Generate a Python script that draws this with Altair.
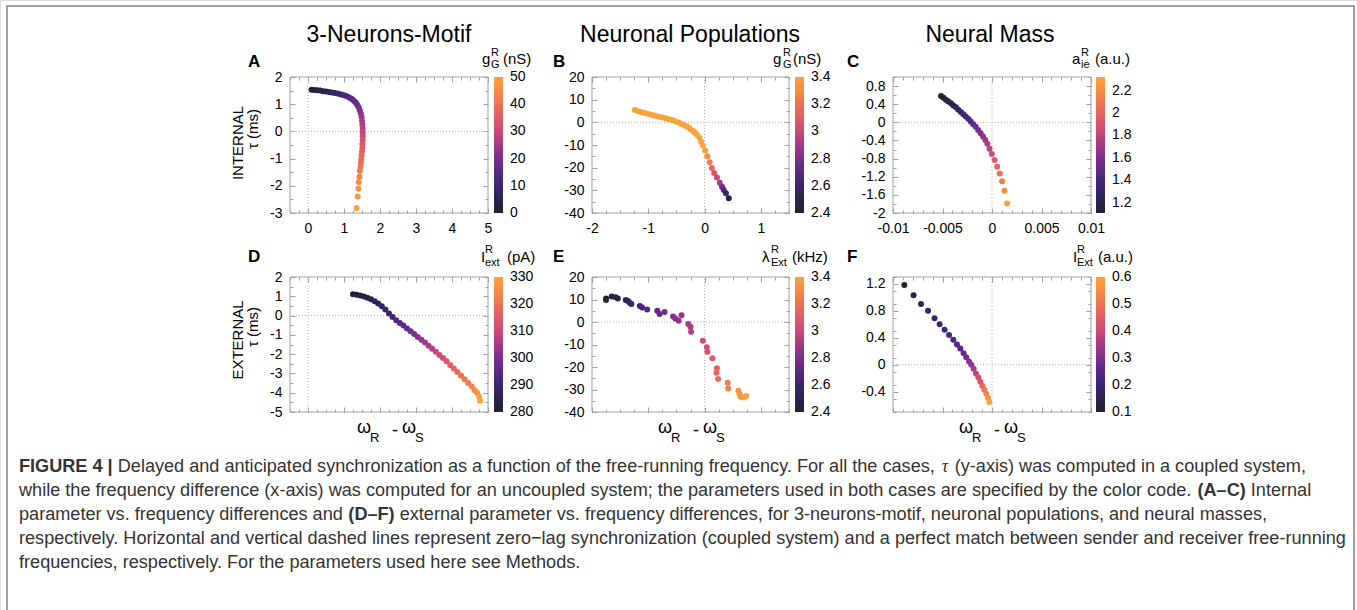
import altair as alt
import pandas as pd

W, H = 1357, 610
FONT = "Liberation Sans"

# ---------------- data ----------------
# A : 3-neurons-motif, internal parameter g_G^R (nS)
A_x = [0.10, 0.18, 0.26, 0.34, 0.42, 0.50, 0.58, 0.66, 0.74, 0.82, 0.90, 0.97, 1.04, 1.11, 1.17, 1.23,
       1.28, 1.33, 1.37, 1.41, 1.44, 1.47, 1.49, 1.50, 1.51, 1.52, 1.52, 1.52, 1.52, 1.51, 1.51, 1.50,
       1.49, 1.48, 1.47, 1.46, 1.44, 1.43, 1.41, 1.40, 1.38, 1.35]
A_tau = [1.53, 1.52, 1.51, 1.50, 1.48, 1.47, 1.45, 1.43, 1.41, 1.39, 1.37, 1.34, 1.31, 1.27, 1.23, 1.18,
         1.12, 1.05, 0.97, 0.88, 0.77, 0.65, 0.52, 0.38, 0.24, 0.10, -0.04, -0.18, -0.32, -0.46, -0.60,
         -0.74, -0.88, -1.02, -1.16, -1.30, -1.45, -1.67, -1.87, -2.11, -2.39, -2.82]
A_g = [0, 1, 2, 3, 4, 5, 6, 7, 8, 9, 10, 11, 12, 13, 14, 15, 16, 17, 18, 19, 21, 22.5, 24, 25.5, 27,
       28.5, 30, 31, 32.5, 34, 35, 36.5, 37.5, 38.5, 39.5, 40.5, 42, 43.5, 45, 46, 47.5, 49]

# B : neuronal populations, internal parameter g_G^R (nS)
B_x = [-1.24, -1.18, -1.12, -1.06, -1.00, -0.94, -0.88, -0.82, -0.76, -0.70, -0.64, -0.58, -0.52, -0.46,
       -0.41, -0.36, -0.31, -0.26, -0.21, -0.17, -0.13, -0.09, -0.06, -0.03, 0.01, 0.05, 0.09, 0.13,
       0.17, 0.22, 0.27, 0.31, 0.34, 0.38, 0.43]
B_tau = [5.4, 4.9, 4.5, 4.1, 3.7, 3.3, 2.9, 2.6, 2.2, 1.8, 1.4, 1.0, 0.5, -0.1, -0.7, -1.3, -2.0, -2.8,
         -3.7, -4.6, -5.6, -6.8, -8.6, -10.2, -12.4, -15.0, -17.6, -20.2, -22.3, -24.3, -26.6, -28.4,
         -29.8, -31.3, -33.5]
B_g = [3.4] * 24 + [3.38, 3.33, 3.25, 3.15, 3.07, 3.0, 2.9, 2.8, 2.7, 2.6, 2.45]

# C : neural mass, internal parameter a_ie^R (a.u.)
C_x = [-0.00515, -0.0049, -0.00465, -0.0044, -0.00415, -0.0039, -0.00365, -0.0034, -0.00315, -0.0029,
       -0.00265, -0.0024, -0.00215, -0.0019, -0.00165, -0.0014, -0.00115, -0.0009, -0.00068, -0.00047,
       -0.00025, -0.00002, 0.00026, 0.00052, 0.00078, 0.00102, 0.00126, 0.00152]
C_tau = [0.58, 0.54, 0.50, 0.46, 0.42, 0.37, 0.33, 0.28, 0.23, 0.18, 0.13, 0.08, 0.02, -0.04, -0.10,
         -0.17, -0.24, -0.31, -0.39, -0.47, -0.58, -0.70, -0.83, -0.98, -1.13, -1.30, -1.51, -1.79]
C_a = [1.12, 1.14, 1.16, 1.18, 1.21, 1.24, 1.27, 1.30, 1.33, 1.36, 1.39, 1.42, 1.46, 1.50, 1.54, 1.58,
       1.62, 1.66, 1.70, 1.74, 1.80, 1.86, 1.93, 2.00, 2.07, 2.14, 2.22, 2.30]

# D : 3-neurons-motif, external parameter I_ext^R (pA)
D_x = [1.25, 1.35, 1.45, 1.55, 1.65, 1.75, 1.85, 1.95, 2.05, 2.15, 2.25, 2.35, 2.45, 2.55, 2.65, 2.75,
       2.85, 2.95, 3.05, 3.15, 3.25, 3.35, 3.45, 3.55, 3.65, 3.75, 3.85, 3.95, 4.05, 4.15, 4.25, 4.35,
       4.45, 4.55, 4.63, 4.70, 4.75, 4.78]
D_tau = [1.11, 1.08, 1.04, 0.99, 0.92, 0.84, 0.74, 0.63, 0.48, 0.31, 0.11, -0.08, -0.24, -0.38, -0.52,
         -0.67, -0.81, -0.96, -1.11, -1.25, -1.40, -1.57, -1.72, -1.88, -2.04, -2.20, -2.37, -2.56, -2.74,
         -2.92, -3.11, -3.30, -3.49, -3.68, -3.87, -4.02, -4.20, -4.42]
D_I = [280, 281, 282, 283, 284, 285, 286, 287, 288, 289, 290, 291, 292.5, 294, 295.5, 297, 298.5, 300,
       301.5, 303, 304.5, 306, 307.5, 309, 310.5, 312, 313.5, 315, 316.5, 318, 319.5, 321, 322.5, 324,
       325.5, 327, 328.5, 330]

# E : neuronal populations, external parameter lambda_Ext^R (kHz)
E_x = [-1.75, -1.75, -1.65, -1.58, -1.54, -1.40, -1.36, -1.33, -1.30, -1.15, -1.11, -1.02, -0.84, -0.80,
       -0.71, -0.56, -0.52, -0.46, -0.41, -0.29, -0.25, -0.24, -0.03, 0.04, 0.05, 0.14, 0.22, 0.21, 0.24,
       0.41, 0.42, 0.60, 0.62, 0.64, 0.70, 0.74]
E_tau = [10.5, 9.8, 11.3, 11.0, 10.5, 9.8, 9.3, 8.6, 8.0, 7.1, 6.5, 5.6, 5.0, 3.6, 4.4, 2.4, 1.6, 0.6,
         3.0, -0.9, -2.1, -4.3, -8.3, -11.2, -13.2, -16.1, -20.6, -22.5, -25.3, -27.0, -29.5, -30.5,
         -32.0, -33.2, -33.5, -32.9]
E_lam = [2.42, 2.43, 2.45, 2.47, 2.48, 2.52, 2.54, 2.56, 2.58, 2.62, 2.64, 2.67, 2.72, 2.74, 2.76, 2.80,
         2.82, 2.84, 2.86, 2.90, 2.92, 2.94, 3.00, 3.03, 3.05, 3.09, 3.13, 3.15, 3.18, 3.24, 3.26, 3.32,
         3.34, 3.36, 3.38, 3.40]

# F : neural mass, external parameter I_Ext^R (a.u.)
F_x = [-0.00886, -0.00792, -0.00717, -0.00646, -0.0058, -0.00529, -0.00479, -0.00434, -0.00391,
       -0.00354, -0.0032, -0.00287, -0.0026, -0.00232, -0.00209, -0.00186, -0.00162, -0.00138,
       -0.00118, -0.00098, -0.00078, -0.00058, -0.0004, -0.00027]
F_tau = [1.18, 1.03, 0.90, 0.80, 0.69, 0.60, 0.52, 0.44, 0.37, 0.30, 0.24, 0.17, 0.11, 0.05, 0.0, -0.06,
         -0.13, -0.19, -0.25, -0.31, -0.37, -0.43, -0.49, -0.55]
F_I = [0.10, 0.14, 0.16, 0.18, 0.19, 0.20, 0.21, 0.22, 0.23, 0.24, 0.25, 0.27, 0.29, 0.31, 0.33, 0.35,
       0.38, 0.41, 0.44, 0.47, 0.50, 0.53, 0.56, 0.60]

# axis / colorbar ticks
X_NEURON = [0, 1, 2, 3, 4, 5]
X_POP = [-2, -1, 0, 1]
X_MASS = [-0.01, -0.005, 0, 0.005, 0.01]
Y_A = [-3, -2, -1, 0, 1, 2]
Y_B = [-40, -30, -20, -10, 0, 10, 20]
Y_C = [-2, -1.6, -1.2, -0.8, -0.4, 0, 0.4, 0.8]
Y_D = [-5, -4, -3, -2, -1, 0, 1, 2]
Y_F = [-0.4, 0, 0.4, 0.8, 1.2]
CB_A = [0, 10, 20, 30, 40, 50]
CB_B = [2.4, 2.6, 2.8, 3, 3.2, 3.4]
CB_C = [1.2, 1.4, 1.6, 1.8, 2, 2.2]
CB_D = [280, 290, 300, 310, 320, 330]
CB_F = [0.1, 0.2, 0.3, 0.4, 0.5, 0.6]

# ---------------- layout / style ----------------
COLS = [(290, 488), (592, 789), (893, 1091)]
ROWS = [(77, 213), (277, 412)]
CBX = [494, 795, 1096]
PALETTE = ["#23212d", "#2c2250", "#3d246f", "#572985", "#7a2f8d", "#a33b86",
           "#c84a77", "#e05c66", "#ee7253", "#f68b44", "#f9a53b"]
FRAMEC = "#a0a0a0"
TICKC = "#a0a0a0"
ZEROC = "#b0b0b0"


def steps(lo, hi, step):
    out = []
    k = 0
    while True:
        v = round(lo + k * step, 6)
        if v > hi + 1e-9:
            break
        out.append(v)
        k += 1
    return out


def tick_axis(orient, offset, values, size):
    return alt.Axis(orient=orient, offset=offset, values=values, labels=False, ticks=True,
                    tickSize=size, tickColor=TICKC, tickWidth=1, domain=False, grid=False, title=None)


def panel(xs, ys, cs, xdom, ydom, xmaj, xstep, ymaj, ystep, cdom, cvals, col, row, xlabels):
    x0, x1 = COLS[col]
    y0, y1 = ROWS[row]
    xsc = alt.Scale(domain=xdom, range=[x0, x1], nice=False, zero=False)
    ysc = alt.Scale(domain=ydom, range=[y1, y0], nice=False, zero=False)
    xmin = steps(xdom[0], xdom[1], xstep)
    ymin = steps(ydom[0], ydom[1], ystep)
    box = pd.DataFrame({"x0": [xdom[0]], "x1": [xdom[1]], "y0": [ydom[0]], "y1": [ydom[1]]})
    base = alt.Chart(box)

    lab_kw = dict(labels=True, ticks=False, domain=False, grid=False, title=None, labelFont=FONT,
                  labelFontSize=14, labelColor="black", labelFlush=False, labelOverlap=False,
                  labelExpr="'' + datum.value")
    xlab = alt.Axis(orient="bottom", offset=y1 - H, values=xmaj, labelPadding=8, **lab_kw) if xlabels else None
    ylab = alt.Axis(orient="left", offset=-x0, values=ymaj, labelPadding=8, **lab_kw)

    layers = [
        base.mark_rect(fillOpacity=0, stroke=FRAMEC, strokeWidth=1).encode(
            x=alt.X("x0:Q", scale=xsc, axis=xlab), x2="x1",
            y=alt.Y("y0:Q", scale=ysc, axis=ylab), y2="y1"),
    ]
    for vals_x, vals_y, size in [(xmaj, ymaj, 5), (xmin, ymin, 3)]:
        layers.append(base.mark_rect(opacity=0).encode(
            x=alt.X("x0:Q", scale=xsc, axis=tick_axis("bottom", y1 - size - H, vals_x, size)), x2="x1",
            y=alt.Y("y0:Q", scale=ysc, axis=tick_axis("left", -(x0 + size), vals_y, size)), y2="y1"))
        layers.append(base.mark_rect(opacity=0).encode(
            x=alt.X("x0:Q", scale=xsc, axis=tick_axis("top", -(y0 + size), vals_x, size)), x2="x1",
            y=alt.Y("y0:Q", scale=ysc, axis=tick_axis("right", x1 - size - W, vals_y, size)), y2="y1"))

    zv = pd.DataFrame({"x": [0.0], "ya": [ydom[0]], "yb": [ydom[1]]})
    zh = pd.DataFrame({"y": [0.0], "xa": [xdom[0]], "xb": [xdom[1]]})
    layers.append(alt.Chart(zv).mark_rule(color=ZEROC, strokeWidth=1, strokeDash=[1, 2]).encode(
        x=alt.X("x:Q", scale=xsc, axis=None), y=alt.Y("ya:Q", scale=ysc, axis=None), y2="yb"))
    layers.append(alt.Chart(zh).mark_rule(color=ZEROC, strokeWidth=1, strokeDash=[1, 2]).encode(
        y=alt.Y("y:Q", scale=ysc, axis=None), x=alt.X("xa:Q", scale=xsc, axis=None), x2="xb"))

    # tiny margin so the end labels of the colour bar stay centred on the bar ends
    eps = (cdom[1] - cdom[0]) * 0.002
    cdom_e = [cdom[0] - eps, cdom[1] + eps]
    df = pd.DataFrame({"x": xs, "y": ys, "c": cs})
    layers.append(alt.Chart(df).mark_circle(size=36, opacity=1).encode(
        x=alt.X("x:Q", scale=xsc, axis=None),
        y=alt.Y("y:Q", scale=ysc, axis=None),
        color=alt.Color("c:Q", scale=alt.Scale(domain=cdom_e, range=PALETTE, clamp=True),
                        legend=alt.Legend(orient="none", legendX=CBX[col], legendY=y0, direction="vertical",
                                          type="gradient", gradientLength=y1 - y0, gradientThickness=9,
                                          gradientStrokeWidth=0, title=None, values=cvals, padding=0,
                                          labelFont=FONT, labelFontSize=14, labelColor="black",
                                          labelOffset=7, labelOverlap=False,
                                          labelExpr="'' + datum.value"))))
    return alt.layer(*layers).resolve_axis(x="independent", y="independent")


panels = [
    panel(A_x, A_tau, A_g, [-0.5, 5], [-3, 2], X_NEURON, 0.25, Y_A, 0.5, [0, 50], CB_A, 0, 0, True),
    panel(B_x, B_tau, B_g, [-2, 1.5], [-40, 20], X_POP, 0.25, Y_B, 5, [2.4, 3.4], CB_B, 1, 0, True),
    panel(C_x, C_tau, C_a, [-0.01, 0.01], [-2, 1], X_MASS, 0.001, Y_C, 0.2, [1.11, 2.32], CB_C, 2, 0, True),
    panel(D_x, D_tau, D_I, [-0.5, 5], [-5, 2], X_NEURON, 0.25, Y_D, 0.5, [280, 330], CB_D, 0, 1, False),
    panel(E_x, E_tau, E_lam, [-2, 1.5], [-40, 20], X_POP, 0.25, Y_B, 5, [2.4, 3.4], CB_B, 1, 1, False),
    panel(F_x, F_tau, F_I, [-0.01, 0.01], [-0.7, 1.3], X_MASS, 0.001, Y_F, 0.2, [0.1, 0.6], CB_F, 2, 1, False),
]

# ---------------- text annotations ----------------
DUMMY = pd.DataFrame({"k": [0]})


def txt(s, x, y, size, weight="normal", align="left", baseline="alphabetic", angle=None,
        color="black", font=FONT, style="normal"):
    kw = dict(text=s, fontSize=size, fontWeight=weight, align=align, baseline=baseline,
              color=color, font=font, fontStyle=style)
    if angle is not None:
        kw["angle"] = angle
    return alt.Chart(DUMMY).mark_text(**kw).encode(x=alt.value(x), y=alt.value(y))


texts = []
for s, cx in [("3-Neurons-Motif", 389), ("Neuronal Populations", 690), ("Neural Mass", 990)]:
    texts.append(txt(s, cx, 42, 23, align="center"))
for s, x, y in [("A", 248, 67), ("B", 553, 67), ("C", 847, 67), ("D", 248, 262), ("E", 553, 262), ("F", 847, 262)]:
    texts.append(txt(s, x, y, 17, weight="bold"))
for s, x, y in [("INTERNAL", 238, 143), ("τ (ms)", 253, 129), ("EXTERNAL", 238, 340), ("τ (ms)", 253, 327)]:
    texts.append(txt(s, x, y, 15, align="center", baseline="middle", angle=270))
for dx in [0, 301, 602]:
    for s, x, y, sz in [("ω", 357, 433, 18), ("R", 370, 442, 13), ("-", 392, 436, 18),
                        ("ω", 402, 433, 18), ("S", 415, 442, 13)]:
        texts.append(txt(s, x + dx, y, sz))
CBT = [
    [("g", 482, 64, 15), ("R", 491, 56, 11), ("G", 491, 68, 11), ("(nS)", 503, 64, 15)],
    [("g", 773, 64, 15), ("R", 783, 56, 11), ("G", 783, 68, 11), ("(nS)", 793, 64, 15)],
    [("a", 1072, 64, 15), ("R", 1081, 56, 11), ("ie", 1081, 68, 11), ("(a.u.)", 1095, 64, 15)],
    [("I", 481, 262, 15), ("R", 485, 253, 11), ("ext", 485, 266, 11), ("(pA)", 507, 262, 15)],
    [("λ", 762, 262, 15), ("R", 771, 253, 11), ("Ext", 771, 266, 11), ("(kHz)", 792, 262, 15)],
    [("I", 1073, 262, 15), ("R", 1077, 253, 11), ("Ext", 1077, 266, 11), ("(a.u.)", 1098, 262, 15)],
]
for group in CBT:
    for s, x, y, sz in group:
        texts.append(txt(s, x, y, sz))

# caption, laid out with Arial-compatible advance widths
REG = {' ': 278, '(': 333, ')': 333, ',': 278, '-': 333, '.': 278, ';': 278, '|': 260, '–': 556,
       '−': 584, 'τ': 440}
for ch in '0123456789':
    REG[ch] = 556
REG.update(dict(A=667, B=667, C=722, D=722, E=667, F=611, G=778, H=722, I=278, J=500, K=667, L=556,
                M=833, N=722, O=778, P=667, Q=778, R=722, S=667, T=611, U=722, V=667, W=944, X=667,
                Y=667, Z=611))
REG.update(dict(a=556, b=556, c=500, d=556, e=556, f=278, g=556, h=556, i=222, j=222, k=500, l=222,
                m=833, n=556, o=556, p=556, q=556, r=333, s=500, t=278, u=556, v=500, w=722, x=500,
                y=500, z=500))
BOLD = dict(REG)
BOLD.update({'|': 280, 'A': 722, 'C': 722, 'D': 722, 'E': 667, 'F': 611, 'G': 778, 'I': 278, 'R': 722,
             'U': 722, '4': 556, '(': 333, ')': 333, '–': 556, ' ': 278})


def em(s, table):
    return sum(table.get(ch, 556) for ch in s) / 1000.0


CAPTION = [
    [("FIGURE 4 | ", "b"), ("Delayed and anticipated synchronization as a function of the free-running "
                            "frequency. For all the cases, ", "r"), ("τ", "i"),
     (" (y-axis) was computed in a coupled system,", "r")],
    [("while the frequency difference (x-axis) was computed for an uncoupled system; the parameters used "
      "in both cases are specified by the color code. ", "r"), ("(A–C)", "b"), (" Internal", "r")],
    [("parameter vs. frequency differences and ", "r"), ("(D–F)", "b"),
     (" external parameter vs. frequency differences, for 3-neurons-motif, neuronal populations, and "
      "neural masses,", "r")],
    [("respectively. Horizontal and vertical dashed lines represent zero−lag synchronization (coupled "
      "system) and a perfect match between sender and receiver free-running", "r")],
    [("frequencies, respectively. For the parameters used here see Methods.", "r")],
]
CAP_X0, CAP_X1 = 19, 1348
CAP_BASE = [472, 496, 520, 544, 568]
line4_em = sum(em(s, REG) for s, _ in CAPTION[3])
CAP_SIZE = (CAP_X1 - CAP_X0) / line4_em
CAPC = "#333333"
for segs, yb in zip(CAPTION, CAP_BASE):
    x = CAP_X0
    for s, st in segs:
        table = BOLD if st == "b" else REG
        lead = len(s) - len(s.lstrip(" "))
        xs_ = x + em(s[:lead], table) * CAP_SIZE
        if st == "b":
            texts.append(txt(s.strip(), xs_, yb, CAP_SIZE, weight="bold", color=CAPC))
        elif st == "i":
            texts.append(txt(s.strip(), xs_, yb, CAP_SIZE, style="italic", color=CAPC, font="Liberation Serif"))
        else:
            texts.append(txt(s.strip(), xs_, yb, CAP_SIZE, color=CAPC))
        x += em(s, table) * CAP_SIZE

outer = alt.Chart(DUMMY).mark_rect(fillOpacity=0, stroke="#808080", strokeWidth=1.5).encode(
    x=alt.value(7), x2=alt.value(1354), y=alt.value(6), y2=alt.value(650))

chart = alt.layer(outer, *panels, *texts).resolve_scale(
    x="independent", y="independent", color="independent"
).properties(
    width=W, height=H, autosize=alt.AutoSizeParams(type="none"), padding=0
).configure_view(strokeWidth=0).configure(background="white")

chart.save("out.html", embed_options={"renderer": "svg", "actions": False})
